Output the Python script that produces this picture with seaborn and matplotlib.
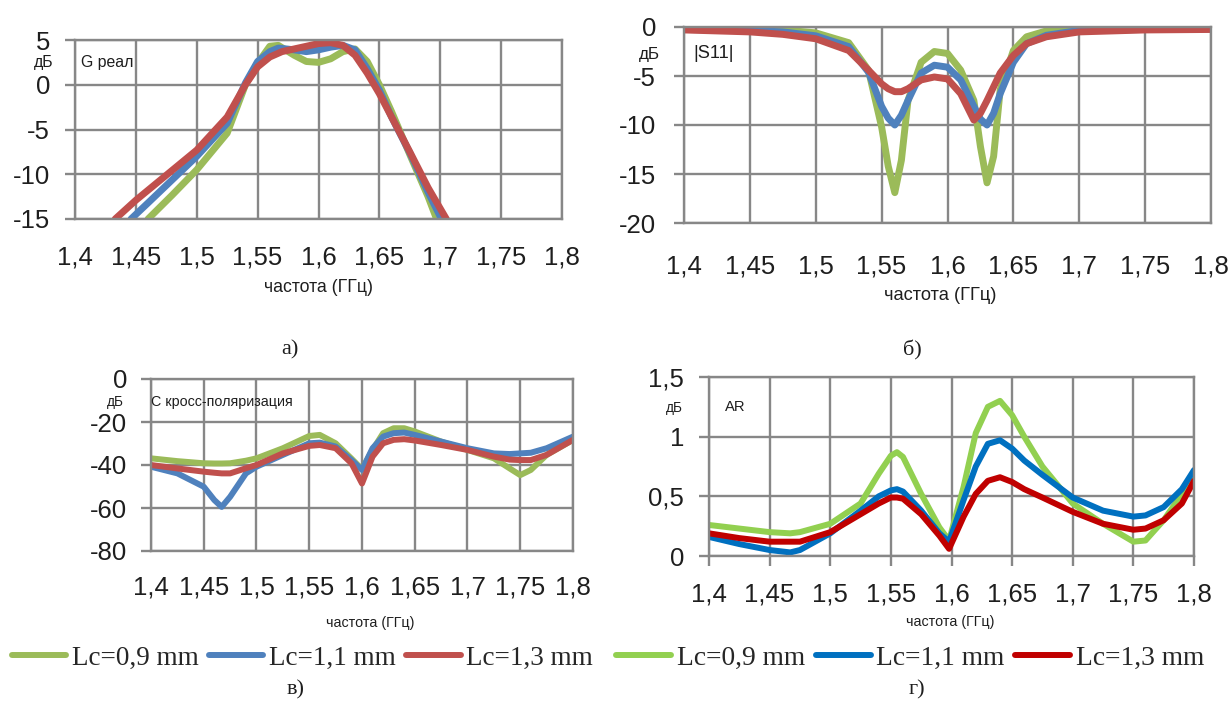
import numpy as np
import pandas as pd
import matplotlib
matplotlib.use("Agg")
import matplotlib.pyplot as plt
from matplotlib import font_manager as fm
from matplotlib.ticker import FuncFormatter
import seaborn as sns

# ---- data ----
series_names = ["Lc=0,9 mm", "Lc=1,1 mm", "Lc=1,3 mm"]

# а) G реал (each curve leaves the plot at -15 dB at a different frequency)
g_x_09 = [1.46, 1.48, 1.5, 1.525, 1.54, 1.55, 1.56, 1.567, 1.58, 1.59, 1.6, 1.61, 1.62, 1.63, 1.64, 1.65, 1.66, 1.675, 1.69, 1.697]
g_y_09 = [-15, -12.3, -9.5, -5.4, 0.0, 2.4, 4.3, 4.4, 3.3, 2.6, 2.5, 2.9, 3.7, 4.0, 2.6, 0.0, -3.0, -7.8, -12.5, -15]
g_x_11 = [1.446, 1.46, 1.48, 1.5, 1.525, 1.54, 1.55, 1.56, 1.567, 1.58, 1.59, 1.6, 1.61, 1.62, 1.63, 1.64, 1.65, 1.66, 1.675, 1.69, 1.701]
g_y_11 = [-15, -13.2, -10.6, -8.0, -4.3, 0.2, 2.6, 3.7, 4.1, 3.9, 3.7, 3.9, 4.2, 4.4, 3.9, 1.8, -0.6, -3.6, -7.6, -12.0, -15]
g_x_13 = [1.433, 1.45, 1.475, 1.5, 1.525, 1.54, 1.55, 1.56, 1.57, 1.58, 1.59, 1.6, 1.61, 1.62, 1.63, 1.64, 1.65, 1.66, 1.675, 1.69, 1.705]
g_y_13 = [-15, -12.9, -10.1, -7.3, -3.6, 0.0, 2.0, 3.1, 3.7, 4.0, 4.3, 4.6, 4.7, 4.4, 3.3, 1.3, -1.0, -3.6, -7.5, -11.5, -15]

# б) |S11|
s_x = [1.4, 1.45, 1.475, 1.5, 1.525, 1.54, 1.55, 1.555, 1.56, 1.565, 1.57, 1.58, 1.59, 1.6,
       1.61, 1.62, 1.625, 1.63, 1.635, 1.64, 1.65, 1.66, 1.675, 1.7, 1.75, 1.8]
s_09 = [-0.15, -0.2, -0.3, -0.6, -1.6, -4.4, -10.2, -14.2, -16.9, -13.6, -7.5, -3.6, -2.5, -2.7,
        -4.4, -7.5, -12.2, -15.9, -13.2, -6.4, -2.4, -1.0, -0.4, -0.15, -0.1, -0.1]
s_11 = [-0.25, -0.35, -0.5, -0.9, -2.0, -4.6, -8.1, -9.3, -10.0, -9.0, -7.5, -4.7, -3.9, -4.1,
        -5.4, -8.1, -9.4, -10.0, -8.8, -6.8, -3.6, -1.7, -0.85, -0.35, -0.25, -0.2]
s_13 = [-0.3, -0.5, -0.75, -1.2, -2.4, -4.4, -5.8, -6.3, -6.6, -6.6, -6.3, -5.4, -5.1, -5.3,
        -6.8, -9.5, -8.8, -7.5, -6.1, -4.7, -2.9, -1.7, -1.0, -0.5, -0.3, -0.25]

# в) С кросс-поляризация
c_x = [1.4, 1.425, 1.45, 1.46, 1.467, 1.475, 1.49, 1.5, 1.525, 1.55, 1.56, 1.575, 1.59, 1.6,
       1.61, 1.62, 1.63, 1.64, 1.65, 1.675, 1.7, 1.725, 1.74, 1.75, 1.76, 1.775, 1.8]
c_09 = [-36.9, -38.2, -39.2, -39.3, -39.3, -39.2, -38.0, -36.9, -32.2, -26.5, -26.0, -29.9, -37.0, -42.0,
        -33.0, -25.2, -22.9, -22.9, -24.4, -29.1, -33.0, -36.9, -41.6, -44.7, -42.3, -35.3, -28.3]
c_11 = [-40.8, -43.9, -50.1, -56.3, -59.5, -54.8, -43.9, -40.8, -35.3, -29.9, -29.6, -31.4, -37.7, -42.3,
        -32.2, -26.8, -25.2, -24.9, -26.0, -29.1, -32.2, -34.6, -34.9, -34.6, -34.3, -32.2, -26.8]
c_13 = [-40.0, -41.6, -43.1, -43.6, -43.9, -43.9, -41.5, -40.0, -34.6, -31.1, -30.7, -32.2, -39.2, -48.6,
        -36.1, -29.9, -28.3, -28.0, -28.6, -30.7, -33.0, -36.1, -37.5, -37.7, -37.7, -35.3, -28.3]

# г) AR
a_x = [1.4, 1.425, 1.45, 1.467, 1.475, 1.5, 1.525, 1.54, 1.55, 1.555, 1.56, 1.575, 1.59, 1.598,
       1.61, 1.62, 1.63, 1.64, 1.65, 1.66, 1.675, 1.7, 1.725, 1.75, 1.76, 1.775, 1.79, 1.8]
a_09 = [0.26, 0.23, 0.20, 0.19, 0.20, 0.27, 0.44, 0.69, 0.84, 0.87, 0.83, 0.52, 0.24, 0.13,
        0.58, 1.03, 1.25, 1.30, 1.18, 1.00, 0.75, 0.44, 0.27, 0.12, 0.13, 0.30, 0.52, 0.69]
a_11 = [0.16, 0.10, 0.05, 0.03, 0.05, 0.19, 0.38, 0.50, 0.55, 0.56, 0.54, 0.38, 0.19, 0.12,
        0.47, 0.75, 0.94, 0.97, 0.90, 0.80, 0.68, 0.49, 0.38, 0.33, 0.34, 0.41, 0.56, 0.72]
a_13 = [0.19, 0.15, 0.12, 0.12, 0.12, 0.20, 0.35, 0.44, 0.49, 0.49, 0.48, 0.35, 0.17, 0.06,
        0.33, 0.52, 0.63, 0.66, 0.62, 0.56, 0.49, 0.37, 0.27, 0.22, 0.23, 0.30, 0.44, 0.63]

freq_ticks = [1.4, 1.45, 1.5, 1.55, 1.6, 1.65, 1.7, 1.75, 1.8]
g_ticks = [-15, -10, -5, 0, 5]
s_ticks = [-20, -15, -10, -5, 0]
c_ticks = [-80, -60, -40, -20, 0]
a_ticks = [0, 0.5, 1, 1.5]

colors_office = ["#9BBB59", "#4F81BD", "#C0504D"]
colors_bright = ["#92D050", "#0070C0", "#C00000"]

# ---- fonts ----
sns.set_style("white")
installed = {f.name for f in fm.fontManager.ttflist}
def pick(*names):
    for n in names:
        if n in installed:
            return n
    return "DejaVu Sans"
narrow = pick("Liberation Sans Narrow", "DejaVu Sans Condensed", "Liberation Sans")
tickfont = pick("Liberation Sans", "DejaVu Sans")
serif = pick("Liberation Serif", "DejaVu Serif")
plt.rcParams["font.family"] = [tickfont, "DejaVu Sans"]
# the labels in the picture are in a condensed face; shrink if none is installed
shrink = 1.0 if narrow != tickfont else 0.82

W, H = 1231, 701
fig = plt.figure(figsize=(W / 100, H / 100), dpi=100)

def box(x0, y0, x1, y1):
    return [x0 / W, 1 - y1 / H, (x1 - x0) / W, (y1 - y0) / H]

def px(x, y):
    return x / W, 1 - y / H

comma = FuncFormatter(lambda v, p: f"{v:g}".replace(".", ","))
grid_c = "#878787"

def style(ax, yticks, ylim, xpad, ypad, xtick_len=0):
    ax.set_xlim(1.4, 1.8)
    ax.set_ylim(*ylim)
    ax.set_xticks(freq_ticks)
    ax.set_yticks(yticks)
    ax.xaxis.set_major_formatter(comma)
    ax.yaxis.set_major_formatter(comma)
    ax.grid(True, color=grid_c, lw=1.7)
    for s in ax.spines.values():
        s.set_color(grid_c)
        s.set_linewidth(1.7)
    ax.tick_params(axis="y", left=True, length=7, width=1.7, color=grid_c,
                   pad=ypad, labelsize=18.5, labelcolor="#1E1E1E")
    ax.tick_params(axis="x", bottom=xtick_len > 0, length=xtick_len, width=1.7,
                   color=grid_c, pad=xpad, labelsize=18.5, labelcolor="#1E1E1E")
    ax.set_xlabel("")
    ax.set_ylabel("")

def draw(ax, xs, ys, cols, lw):
    for x, y, c, n in zip(xs, ys, cols, series_names):
        df = pd.DataFrame({"f": x, "v": y})
        sns.lineplot(data=df, x="f", y="v", ax=ax, color=c, lw=lw, label=n,
                     legend=False, solid_capstyle="round", solid_joinstyle="round")

# а)
ax1 = fig.add_axes(box(75, 40, 562, 219))
draw(ax1, [g_x_09, g_x_11, g_x_13], [g_y_09, g_y_11, g_y_13], colors_office, 5.0)
style(ax1, g_ticks, (-15, 5), xpad=19, ypad=11)

# б)
ax2 = fig.add_axes(box(684, 27, 1211, 223))
draw(ax2, [s_x] * 3, [s_09, s_11, s_13], colors_office, 5.0)
style(ax2, s_ticks, (-20, 0), xpad=23, ypad=13)

# в)
ax3 = fig.add_axes(box(151, 379, 573, 551))
draw(ax3, [c_x] * 3, [c_09, c_11, c_13], colors_office, 4.3)
style(ax3, c_ticks, (-80, 0), xpad=18, ypad=10)

# г)
ax4 = fig.add_axes(box(709, 377, 1194, 556))
draw(ax4, [a_x] * 3, [a_09, a_11, a_13], colors_bright, 4.3)
style(ax4, a_ticks, (0, 1.5), xpad=12, ypad=11, xtick_len=7)

# texts inside / around panels
nf = [narrow, "DejaVu Sans"]
for (x, y, s, size, ha) in [
    (44, 63, "дБ", 14, "center"), (81, 63, "G реал", 14, "left"), (319, 287, "частота (ГГц)", 15.5, "center"),
    (649, 55, "дБ", 15, "center"), (693, 53, "|S11|", 16, "left"), (940, 295, "частота (ГГц)", 16, "center"),
    (115, 402, "дБ", 12, "center"), (151, 402, "С кросс-поляризация", 12.5, "left"), (370, 623, "частота (ГГц)", 12.5, "center"),
    (674, 408, "дБ", 12, "center"), (735, 407, "AR", 13, "center"), (950, 622, "частота (ГГц)", 12.5, "center"),
]:
    fig.text(*px(x, y), s, ha=ha, va="center", fontsize=size * shrink, family=nf, color="#1E1E1E")

for (x, y, s) in [(290, 350, "а)"), (912, 350, "б)"), (296, 690, "в)"), (917, 690, "г)")]:
    fig.text(*px(x, y), s, ha="center", va="center", fontsize=16, family=[serif, "DejaVu Serif"], color="#1E1E1E")

# legends
for ax, x0, fs in [(ax3, 12, 19.5), (ax4, 616, 19.8)]:
    ax.legend(handles=ax.get_lines()[:3], labels=series_names, loc="center left",
              bbox_to_anchor=px(x0, 658), bbox_transform=fig.transFigure, ncol=3,
              frameon=False, borderpad=0, borderaxespad=0, handlelength=2.0,
              handletextpad=0.2, columnspacing=0.4, prop={"family": serif, "size": fs})

fig.savefig("out.png", dpi=100, facecolor="white")
